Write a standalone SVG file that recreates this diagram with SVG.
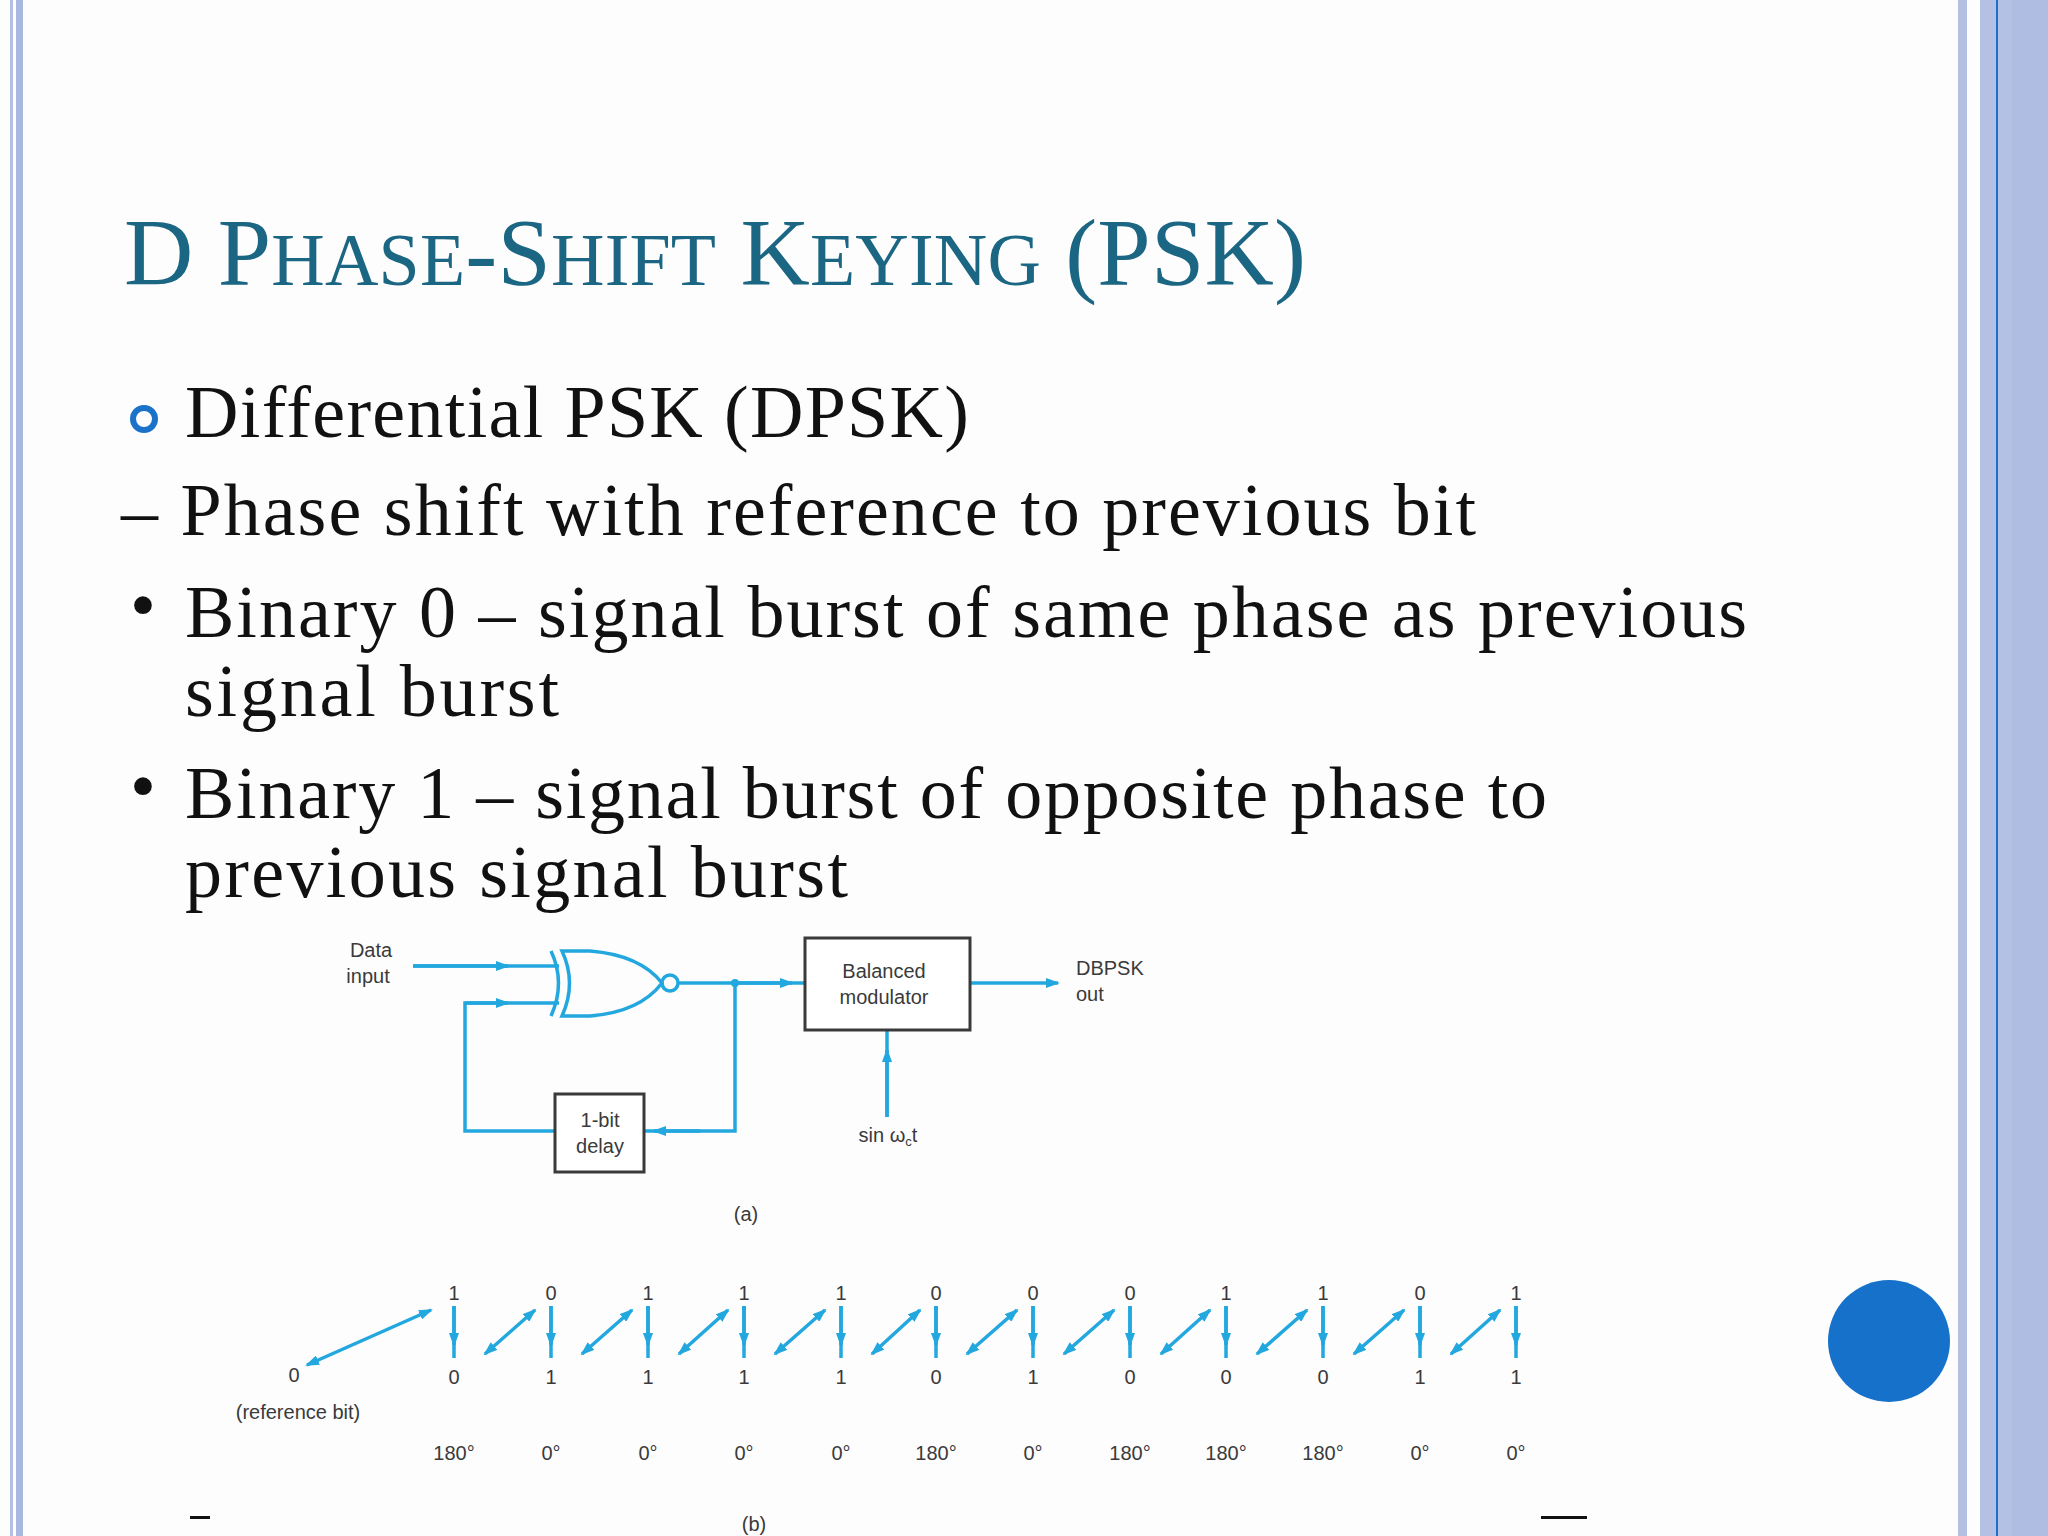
<svg xmlns="http://www.w3.org/2000/svg" width="2048" height="1536" viewBox="0 0 2048 1536">
<style>
.body{font-family:"Liberation Serif",serif;font-size:74px;fill:#111}
.title{font-family:"Liberation Serif",serif;fill:#1b6682}
.lbl{font-family:"Liberation Sans",Arial,sans-serif;font-size:20px;fill:#3a3a3a;text-anchor:middle}
.wire{stroke:#22a7de;stroke-width:3.5;fill:none}
.box{fill:#fff;stroke:#3a3a3a;stroke-width:3}
</style>
<defs>
<marker id="ah" viewBox="0 0 14 10" refX="12" refY="5" markerWidth="14" markerHeight="10" orient="auto-start-reverse" markerUnits="userSpaceOnUse">
<path d="M0,0 L14,5 L0,10 z" fill="#22a7de"/>
</marker>
</defs>
<rect width="2048" height="1536" fill="#fdfdfe"/>
<rect x="10" y="0" width="3" height="1536" fill="#b3c0e2"/>
<rect x="16" y="0" width="7" height="1536" fill="#a9b8de"/>
<rect x="1958" y="0" width="9" height="1536" fill="#b3c0e2"/>
<rect x="1980" y="0" width="68" height="1536" fill="#b4c1e4"/>
<rect x="1996" y="0" width="2" height="1536" fill="#1f6fc8"/>
<rect x="2012" y="0" width="36" height="1536" fill="#afbde3"/>

<text class="title" x="124" y="285" textLength="1182" font-size="96">D P<tspan font-size="74">HASE</tspan>-S<tspan font-size="74">HIFT</tspan> K<tspan font-size="74">EYING</tspan> (PSK)</text>

<circle cx="144" cy="419" r="11" fill="none" stroke="#1a73c8" stroke-width="6"/>
<text class="body" x="185" y="437" textLength="784">Differential PSK (DPSK)</text>
<text class="body" x="121" y="535" textLength="1355">– Phase shift with reference to previous bit</text>
<text class="body" x="130" y="630" font-size="50">•</text>
<text class="body" x="185" y="637" textLength="1562">Binary 0 – signal burst of same phase as previous</text>
<text class="body" x="185" y="716" textLength="374">signal burst</text>
<text class="body" x="130" y="811" font-size="50">•</text>
<text class="body" x="185" y="818" textLength="1362">Binary 1 – signal burst of opposite phase to</text>
<text class="body" x="185" y="897" textLength="663">previous signal burst</text>

<circle cx="1889" cy="1341" r="61" fill="#1571c9"/>

<g id="connectors">
<path class="wire" d="M413,966 H559"/>
<path class="wire" d="M413,966 H508" marker-end="url(#ah)"/>
<path class="wire" d="M555,1131 H465 V1003 H559"/>
<path class="wire" d="M465,1003 H508" marker-end="url(#ah)"/>
<path class="wire" d="M678,983 H805"/>
<path class="wire" d="M735,983 H792" marker-end="url(#ah)"/>
<path class="wire" d="M735,983 V1131 H644"/>
<path class="wire" d="M700,1131 H654" marker-end="url(#ah)"/>
<path class="wire" d="M970,983 H1058" marker-end="url(#ah)"/>
<path class="wire" d="M887,1117 V1030"/>
<path class="wire" d="M887,1117 V1050" marker-end="url(#ah)"/>
<circle cx="735" cy="983" r="4" fill="#22a7de"/>
</g>

<g id="xnor">
<path class="wire" d="M551,951 Q566,983 551,1016"/>
<path class="wire" d="M562,951 H590 Q640,955 662,983 Q640,1012 590,1016 H562 Q577,983 562,951 z"/>
<circle class="wire" cx="670" cy="983" r="8"/>
</g>
<g id="modulator">
<rect class="box" x="805" y="938" width="165" height="92"/>
<text class="lbl" x="884" y="978">Balanced</text>
<text class="lbl" x="884" y="1004">modulator</text>
</g>
<g id="delay">
<rect class="box" x="555" y="1094" width="89" height="78"/>
<text class="lbl" x="600" y="1127">1-bit</text>
<text class="lbl" x="600" y="1153">delay</text>
</g>
<text class="lbl" x="371" y="957">Data</text>
<text class="lbl" x="368" y="983">input</text>
<text class="lbl" x="1076" y="975" style="text-anchor:start">DBPSK</text>
<text class="lbl" x="1076" y="1001" style="text-anchor:start">out</text>
<text class="lbl" x="888" y="1142">sin ω<tspan font-size="13" dy="4">c</tspan><tspan dy="-4">t</tspan></text>
<text class="lbl" x="746" y="1221">(a)</text>

<g id="phasors">
<path class="wire" d="M307,1365 L431,1310" marker-start="url(#ah)" marker-end="url(#ah)"/>
<g class="wire">
<path d="M454,1306 V1358"/><path d="M454,1306 V1345" marker-end="url(#ah)"/>
<path d="M551,1306 V1358"/><path d="M551,1306 V1345" marker-end="url(#ah)"/>
<path d="M648,1306 V1358"/><path d="M648,1306 V1345" marker-end="url(#ah)"/>
<path d="M744,1306 V1358"/><path d="M744,1306 V1345" marker-end="url(#ah)"/>
<path d="M841,1306 V1358"/><path d="M841,1306 V1345" marker-end="url(#ah)"/>
<path d="M936,1306 V1358"/><path d="M936,1306 V1345" marker-end="url(#ah)"/>
<path d="M1033,1306 V1358"/><path d="M1033,1306 V1345" marker-end="url(#ah)"/>
<path d="M1130,1306 V1358"/><path d="M1130,1306 V1345" marker-end="url(#ah)"/>
<path d="M1226,1306 V1358"/><path d="M1226,1306 V1345" marker-end="url(#ah)"/>
<path d="M1323,1306 V1358"/><path d="M1323,1306 V1345" marker-end="url(#ah)"/>
<path d="M1420,1306 V1358"/><path d="M1420,1306 V1345" marker-end="url(#ah)"/>
<path d="M1516,1306 V1358"/><path d="M1516,1306 V1345" marker-end="url(#ah)"/>
<path d="M485,1354 L535,1310" marker-start="url(#ah)" marker-end="url(#ah)"/>
<path d="M582,1354 L632,1310" marker-start="url(#ah)" marker-end="url(#ah)"/>
<path d="M679,1354 L728,1310" marker-start="url(#ah)" marker-end="url(#ah)"/>
<path d="M775,1354 L825,1310" marker-start="url(#ah)" marker-end="url(#ah)"/>
<path d="M872,1354 L920,1310" marker-start="url(#ah)" marker-end="url(#ah)"/>
<path d="M967,1354 L1017,1310" marker-start="url(#ah)" marker-end="url(#ah)"/>
<path d="M1064,1354 L1114,1310" marker-start="url(#ah)" marker-end="url(#ah)"/>
<path d="M1161,1354 L1210,1310" marker-start="url(#ah)" marker-end="url(#ah)"/>
<path d="M1257,1354 L1307,1310" marker-start="url(#ah)" marker-end="url(#ah)"/>
<path d="M1354,1354 L1404,1310" marker-start="url(#ah)" marker-end="url(#ah)"/>
<path d="M1451,1354 L1500,1310" marker-start="url(#ah)" marker-end="url(#ah)"/>
</g>
</g>
<g class="lbl">
<text x="454" y="1300">1</text><text x="551" y="1300">0</text><text x="648" y="1300">1</text><text x="744" y="1300">1</text><text x="841" y="1300">1</text><text x="936" y="1300">0</text><text x="1033" y="1300">0</text><text x="1130" y="1300">0</text><text x="1226" y="1300">1</text><text x="1323" y="1300">1</text><text x="1420" y="1300">0</text><text x="1516" y="1300">1</text>
<text x="294" y="1382">0</text>
<text x="454" y="1384">0</text><text x="551" y="1384">1</text><text x="648" y="1384">1</text><text x="744" y="1384">1</text><text x="841" y="1384">1</text><text x="936" y="1384">0</text><text x="1033" y="1384">1</text><text x="1130" y="1384">0</text><text x="1226" y="1384">0</text><text x="1323" y="1384">0</text><text x="1420" y="1384">1</text><text x="1516" y="1384">1</text>
<text x="298" y="1419">(reference bit)</text>
<text x="454" y="1460">180°</text><text x="551" y="1460">0°</text><text x="648" y="1460">0°</text><text x="744" y="1460">0°</text><text x="841" y="1460">0°</text><text x="936" y="1460">180°</text><text x="1033" y="1460">0°</text><text x="1130" y="1460">180°</text><text x="1226" y="1460">180°</text><text x="1323" y="1460">180°</text><text x="1420" y="1460">0°</text><text x="1516" y="1460">0°</text>
<text x="754" y="1531">(b)</text>
</g>
<rect x="190" y="1516" width="20" height="3" fill="#111"/>
<rect x="1541" y="1516" width="46" height="3" fill="#111"/>
</svg>
